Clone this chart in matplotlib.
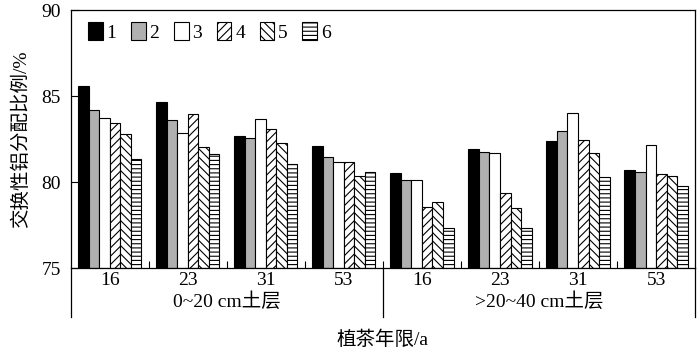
import numpy as np
import matplotlib.pyplot as plt
from matplotlib.lines import Line2D

plt.rcParams['font.family'] = ['Liberation Serif', 'Noto Sans CJK SC']
plt.rcParams['hatch.linewidth'] = 0.8

years = ['16', '23', '31', '53']
layers = ['0~20 cm土层', '>20~40 cm土层']
series = ['1', '2', '3', '4', '5', '6']

# rows: series 1-6, columns: 8 groups (4 years x 2 layers)
s1 = [85.6, 84.65, 82.67, 82.07, 80.52, 81.90, 82.37, 80.72]
s2 = [84.2, 83.59, 82.58, 81.44, 80.10, 81.76, 82.98, 80.56]
s3 = [83.75, 82.83, 83.66, 81.16, 80.13, 81.70, 84.03, 82.15]
s4 = [83.45, 83.95, 83.08, 81.16, 78.55, 79.38, 82.44, 80.47]
s5 = [82.79, 82.05, 82.25, 80.37, 78.86, 78.47, 81.69, 80.37]
s6 = [81.36, 81.63, 81.03, 80.56, 77.31, 77.34, 80.27, 79.75]
values = [s1, s2, s3, s4, s5, s6]

colors = ['black', '#b0b0b0', 'white', 'white', 'white', 'white']
hatches = [None, None, None, '////', '\\\\\\\\', '----']

fig = plt.figure(figsize=(7, 3.58), dpi=100)
ax = fig.add_axes([0.101, 0.251, 0.892, 0.721])

n = len(s1)
x = np.arange(n)
w = 0.135
for i, vals in enumerate(values):
    ax.bar(x + (i - 2.5) * w, np.array(vals) - 75, bottom=75, width=w,
           color=colors[i], edgecolor='black', linewidth=0.8,
           hatch=hatches[i], label=series[i])

ax.set_xlim(-0.5, n - 0.5)
ax.set_ylim(75, 90)
ax.set_yticks([75, 80, 85, 90])
ax.tick_params(axis='y', direction='in', length=6, labelsize=14, width=0.8,
               pad=7)
ax.set_xticks(np.arange(0.5, n - 0.5, 1))
ax.set_xticklabels([])
ax.tick_params(axis='x', which='major', direction='in', length=5, width=0.8)
ax.set_xticks(x, minor=True)
ax.set_xticklabels(years * 2, minor=True)
ax.tick_params(axis='x', which='minor', length=0, labelsize=14, pad=3)
for s in ax.spines.values():
    s.set_linewidth(0.9)

# second level labels and separators
for xs in [0, 0.5, 1]:
    ax.add_line(Line2D([xs, xs], [0, -0.19], transform=ax.transAxes,
                       color='black', linewidth=0.9, clip_on=False))
ax.text(0.25, -0.128, layers[0], transform=ax.transAxes, ha='center',
        va='center', fontsize=14)
ax.text(0.75, -0.128, layers[1], transform=ax.transAxes, ha='center',
        va='center', fontsize=14)

ax.set_xlabel('植茶年限/a', fontsize=14, labelpad=30)
ax.set_ylabel('交换性铝分配比例/%', fontsize=14, labelpad=8)

ax.legend(loc='upper left', bbox_to_anchor=(0.0, 1.02), ncol=6,
          frameon=False, fontsize=14, handlelength=0.75, handleheight=1.0,
          handletextpad=0.2, columnspacing=0.75)

fig.savefig('out.png', dpi=100)
